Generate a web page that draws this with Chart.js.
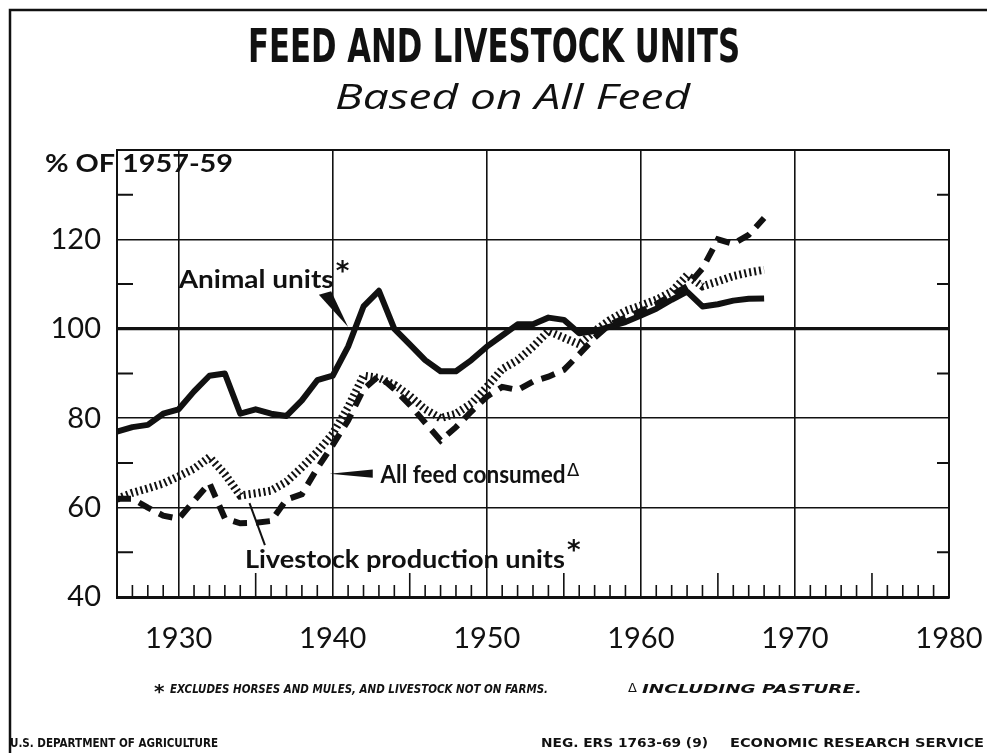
<!DOCTYPE html>
<html>
<head>
<meta charset="utf-8">
<script src="https://cdn.jsdelivr.net/npm/chart.js@4.4.0/dist/chart.umd.min.js"></script>
<style>
  html, body { margin: 0; padding: 0; background: #fff; }
  #wrap { width: 987px; height: 753px; position: relative; }
</style>
</head>
<body>
<div id="wrap"><canvas id="c" width="987" height="753"></canvas></div>
<script>
// years on the x axis
var years = [1926, 1927, 1928, 1929, 1930, 1931, 1932, 1933, 1934, 1935,
  1936, 1937, 1938, 1939, 1940, 1941, 1942, 1943, 1944, 1945,
  1946, 1947, 1948, 1949, 1950, 1951, 1952, 1953, 1954, 1955,
  1956, 1957, 1958, 1959, 1960, 1961, 1962, 1963, 1964, 1965,
  1966, 1967, 1968];

// % of 1957-59
var animalUnits = [77, 78, 78.5, 81, 82, 86, 89.5, 90, 81, 82,
  81, 80.5, 84, 88.5, 89.5, 96, 105, 108.5, 100, 96.5,
  93, 90.5, 90.5, 93, 96, 98.5, 101, 101, 102.5, 102,
  99, 99.5, 100.5, 101.5, 103, 104.5, 106.5, 108.3, 105, 105.5,
  106.3, 106.7, 106.8];

var allFeedConsumed = [62, 63.3, 64.3, 65.4, 67, 68.7, 71.3, 67.5, 62.7, 63.2,
  63.8, 65.8, 69, 72.5, 76.5, 82.5, 89.5, 89, 87.5, 85,
  82, 80, 81, 83.3, 87, 91, 93, 96, 99.5, 98,
  96.5, 99.5, 102, 104, 105.2, 106.5, 108.3, 112, 109.5, 110.6,
  111.8, 112.6, 113.2];

var livestockProductionUnits = [62, 62, 60, 58.2, 57.5, 61.5, 65.5, 57.6, 56.5, 56.6,
  57, 61.8, 63, 68.8, 74, 79.5, 86.5, 89.5, 86.5, 83,
  79, 75, 78, 81.5, 84.8, 87, 86.3, 88.2, 89.3, 90.8,
  94.3, 98, 101, 102.5, 104, 105.5, 107.5, 109.5, 113.5, 120,
  119, 121, 124.8];

var xTicks = [1930, 1940, 1950, 1960, 1970, 1980];
var yTicks = [40, 60, 80, 100, 120];
var yMinorTicks = [50, 70, 90, 110, 130];

var INK = '#111';

function pts(vals) {
  return years.map(function (y, i) { return { x: y, y: vals[i] }; });
}

// draw text squeezed/stretched to a given width
function fitText(ctx, text, x, y, width) {
  var w = ctx.measureText(text).width;
  ctx.save();
  ctx.translate(x, y);
  ctx.scale(width / w, 1);
  ctx.textAlign = 'left';
  ctx.fillText(text, 0, 0);
  ctx.restore();
}

var decor = {
  id: 'decor',
  beforeDraw: function (chart) {
    var ctx = chart.ctx;
    ctx.save();
    ctx.fillStyle = '#fff';
    ctx.fillRect(0, 0, chart.width, chart.height);
    ctx.restore();
  },
  afterDatasetsDraw: function (chart) {
    var ctx = chart.ctx, xs = chart.scales.x, ys = chart.scales.y, a = chart.chartArea;
    var X = function (v) { return xs.getPixelForValue(v); };
    var Y = function (v) { return ys.getPixelForValue(v); };
    ctx.save();
    ctx.strokeStyle = INK;
    ctx.fillStyle = INK;

    // frame of the plot
    ctx.lineWidth = 2;
    ctx.strokeRect(a.left, a.top, a.right - a.left, a.bottom - a.top);

    // minor ticks inside the plot, left and right
    ctx.lineWidth = 2;
    yMinorTicks.forEach(function (v) {
      ctx.beginPath();
      ctx.moveTo(a.left, Y(v)); ctx.lineTo(a.left + 16, Y(v));
      ctx.moveTo(a.right, Y(v)); ctx.lineTo(a.right - 12, Y(v));
      ctx.stroke();
    });
    // yearly ticks along the bottom
    ctx.lineWidth = 1.6;
    for (var yr = 1927; yr < 1980; yr++) {
      if (yr % 10 === 0) continue;
      var len = (yr % 5 === 0) ? 24 : 12;
      ctx.beginPath();
      ctx.moveTo(X(yr), a.bottom); ctx.lineTo(X(yr), a.bottom - len);
      ctx.stroke();
    }

    // annotations
    ctx.textBaseline = 'middle';
    ctx.font = 'bold 24px Lato, "DejaVu Sans", sans-serif';
    fitText(ctx, 'Animal units', X(1930), Y(110.8), 155);
    fitText(ctx, 'All feed consumed', X(1943.1), Y(67.2), 185);
    fitText(ctx, 'Livestock production units', X(1934.3), Y(48.3), 320);
    ctx.font = 'bold 26px "DejaVu Sans", sans-serif';
    ctx.fillText('*', X(1940.2), Y(112.5));
    ctx.fillText('*', X(1955.2), Y(50.0));
    ctx.font = '18px "DejaVu Sans", sans-serif';
    ctx.fillText('\u0394', X(1955.2), Y(68.2));

    // pointer wedges
    ctx.beginPath();
    ctx.moveTo(X(1939.1), Y(107.6));
    ctx.lineTo(X(1939.9), Y(108.4));
    ctx.lineTo(X(1941.0), Y(100.4));
    ctx.closePath();
    ctx.fill();

    ctx.beginPath();
    ctx.moveTo(X(1939.8), Y(67.6));
    ctx.lineTo(X(1942.6), Y(68.5));
    ctx.lineTo(X(1942.6), Y(66.7));
    ctx.closePath();
    ctx.fill();

    ctx.lineWidth = 2;
    ctx.beginPath();
    ctx.moveTo(X(1934.6), Y(61.0));
    ctx.lineTo(X(1935.6), Y(51.6));
    ctx.stroke();

    ctx.restore();
  },
  afterDraw: function (chart) {
    var ctx = chart.ctx;
    ctx.save();
    ctx.fillStyle = INK;
    ctx.strokeStyle = INK;

    // outer border (left and top)
    ctx.lineWidth = 2.5;
    ctx.beginPath();
    ctx.moveTo(10, 753); ctx.lineTo(10, 10); ctx.lineTo(987, 10);
    ctx.stroke();

    ctx.textBaseline = 'alphabetic';
    ctx.font = 'bold 46px "Liberation Sans Narrow", "DejaVu Sans Condensed", sans-serif';
    fitText(ctx, 'FEED AND LIVESTOCK UNITS', 248, 62, 492);
    ctx.font = 'italic 34px "Open Sans", "DejaVu Sans", sans-serif';
    fitText(ctx, 'Based on All Feed', 335, 109, 355);

    ctx.font = 'bold 24px Lato, "DejaVu Sans", sans-serif';
    fitText(ctx, '% OF 1957-59', 45, 172, 188);

    ctx.font = 'italic bold 12px "DejaVu Sans Condensed", "DejaVu Sans", sans-serif';
    fitText(ctx, 'EXCLUDES HORSES AND MULES, AND LIVESTOCK NOT ON FARMS.', 170, 693, 378);
    fitText(ctx, 'INCLUDING PASTURE.', 642, 693, 220);
    ctx.font = 'bold 20px "DejaVu Sans", sans-serif';
    ctx.fillText('*', 154, 698);
    ctx.font = '13px "DejaVu Sans", sans-serif';
    ctx.fillText('\u0394', 628, 692);

    ctx.font = 'bold 12px "DejaVu Sans Condensed", "DejaVu Sans", sans-serif';
    fitText(ctx, 'U.S. DEPARTMENT OF AGRICULTURE', 10, 747, 208);
    fitText(ctx, 'NEG. ERS 1763-69 (9)', 541, 747, 167);
    fitText(ctx, 'ECONOMIC RESEARCH SERVICE', 730, 747, 254);
    ctx.restore();
  }
};

var lineBase = { pointRadius: 0, tension: 0, fill: false, borderColor: INK, borderCapStyle: 'butt', borderJoinStyle: 'miter' };

new Chart(document.getElementById('c'), {
  type: 'line',
  data: {
    datasets: [
      Object.assign({}, lineBase, { label: 'Livestock production units', data: pts(livestockProductionUnits), borderWidth: 6, borderDash: [14, 9] }),
      Object.assign({}, lineBase, { label: 'All feed consumed', data: pts(allFeedConsumed), borderWidth: 8, borderDash: [2, 3] }),
      Object.assign({}, lineBase, { label: 'Animal units', data: pts(animalUnits), borderWidth: 6, borderJoinStyle: 'round' })
    ]
  },
  options: {
    responsive: false,
    animation: false,
    events: [],
    layout: { padding: { top: 150, right: 38, left: 0, bottom: 0 } },
    plugins: { legend: { display: false }, tooltip: { enabled: false }, title: { display: false } },
    scales: {
      x: {
        type: 'linear',
        min: 1926,
        max: 1980,
        afterBuildTicks: function (s) { s.ticks = xTicks.map(function (v) { return { value: v }; }); },
        afterFit: function (s) { s.height = 156; s.paddingLeft = 0; s.paddingRight = 0; },
        grid: { color: INK, lineWidth: 1.6, drawTicks: false },
        border: { display: true, color: INK, width: 3 },
        ticks: {
          color: INK,
          padding: 24,
          maxRotation: 0,
          autoSkip: false,
          font: { family: 'Lato, "DejaVu Sans", sans-serif', size: 29 },
          callback: function (v) { return String(v); }
        }
      },
      y: {
        min: 40,
        max: 140,
        afterBuildTicks: function (s) { s.ticks = yTicks.map(function (v) { return { value: v }; }); },
        afterFit: function (s) { s.width = 117; s.paddingTop = 0; s.paddingBottom = 0; },
        grid: {
          color: INK,
          drawTicks: false,
          lineWidth: function (c) { return c.tick && c.tick.value === 100 ? 3.2 : 1.6; }
        },
        border: { display: true, color: INK, width: 2 },
        ticks: {
          color: INK,
          padding: 16,
          autoSkip: false,
          font: { family: 'Lato, "DejaVu Sans", sans-serif', size: 29 },
          callback: function (v) { return String(v); }
        }
      }
    }
  },
  plugins: [decor]
});
</script>
</body>
</html>
